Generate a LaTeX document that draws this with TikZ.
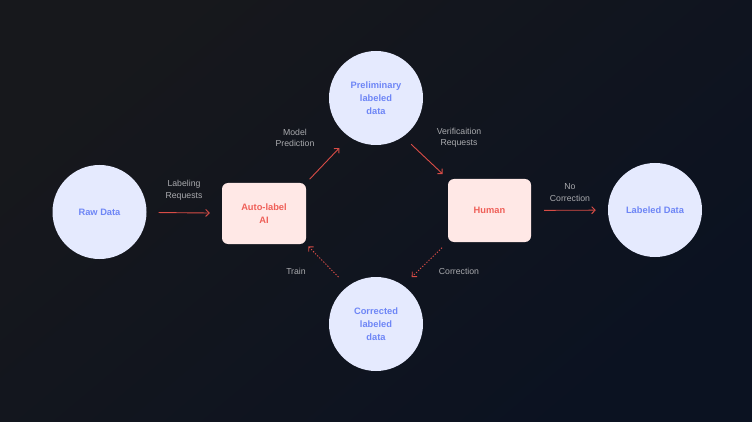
\documentclass[tikz,border=0pt]{standalone}
\usepackage{fontspec}
\setmainfont{Liberation Sans}
\usetikzlibrary{positioning, arrows.meta}
\definecolor{fondoA}{HTML}{17181C}
\definecolor{fondoB}{HTML}{0B1221}
\definecolor{azulclaro}{HTML}{E5EAFE}
\definecolor{azultexto}{HTML}{6E86F6}
\definecolor{rosaclaro}{HTML}{FFE8E6}
\definecolor{rojotexto}{HTML}{EF5F58}
\definecolor{rojoflecha}{HTML}{D84C46}
\definecolor{grislabel}{HTML}{A9AAAE}
\tikzset{arista/.style={draw=rojoflecha, line width=0.9pt, -{Straight Barb[length=3.5pt,width=7pt]}}}
\tikzset{punteada/.style={arista, dash pattern=on 1.3pt off 1.6pt}}
\tikzset{llabel/.style={text=grislabel, font=\fontsize{8.7}{11.5}\selectfont, align=center, inner sep=0pt}}

\begin{document}
\begin{tikzpicture}[
                x=1pt, y=-1pt,
                circulo/.style={circle, fill=azulclaro, minimum size=94pt, inner sep=0pt,
                    text=azultexto, font=\fontsize{9.3}{13}\selectfont\bfseries, align=center},
                caja/.style={rectangle, rounded corners=6pt, fill=rosaclaro, inner sep=0pt,
                    text=rojotexto, font=\fontsize{9.3}{13}\selectfont\bfseries, align=center}
            ]
                \shade[top color=fondoA, bottom color=fondoB, shading angle=40] (0,0) rectangle (752,422);
                \useasboundingbox (0,0) rectangle (752,422);

                \node[circulo] (raw) at (99.5,212) {Raw Data};
                \node[caja, minimum width=84pt, minimum height=61pt] (auto) at (264,213.5) {Auto-label\\AI};
                \node[circulo] (prelim) at (376,98) {Preliminary\\labeled\\data};
                \node[caja, minimum width=83pt, minimum height=63pt] (human) at (489.5,210.5) {Human};
                \node[circulo] (corr) at (376,324) {Corrected\\labeled\\data};
                \node[circulo] (labeled) at (655,210) {Labeled Data};

                \draw[arista, shorten <=12pt, shorten >=12pt] (raw) -- (auto);
                \draw[arista, shorten <=5pt, shorten >=15pt] (auto.north east) -- (prelim.236);
                \draw[arista, shorten <=11pt, shorten >=7pt] (prelim.305) -- (human.north west);
                \draw[arista, shorten <=13pt, shorten >=12pt] (human) -- (labeled);
                \draw[punteada, shorten <=8pt, shorten >=12pt] (human.south west) -- (corr.55);
                \draw[punteada, shorten <=13pt, shorten >=3pt] (corr.127) -- (auto.south east);

                \node[llabel] (lreq) at (184,190.5) {Labeling\\Requests};
                \node[llabel] (lmod) at (295,138) {Model\\Prediction};
                \node[llabel] (lver) at (459,138) {Verificaition\\Requests};
                \node[llabel] (lno) at (570,192.5) {No\\Correction};
                \node[llabel] (ltrain) at (296,271) {Train};
                \node[llabel] (lcorr) at (459,271) {Correction};
            \end{tikzpicture}
\end{document}
